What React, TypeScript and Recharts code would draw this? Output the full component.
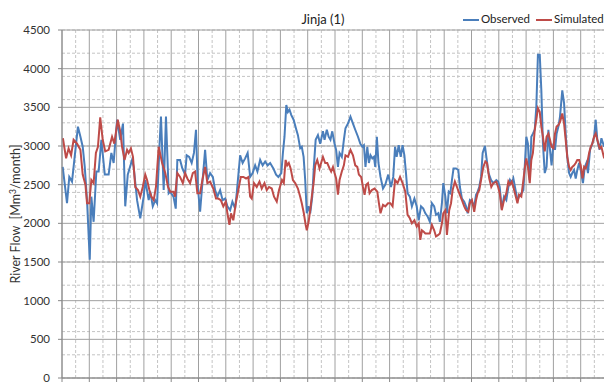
import React from 'react';
import { LineChart, Line, XAxis, YAxis, CartesianGrid } from 'recharts';

// month index (from start of record) and flow in Mm3/month
const obsMonth = [
  0.3, 2.2, 3.2, 4.4, 7.0, 8.1, 9.1, 10.0, 11.0, 12.2, 12.9, 13.9, 15.1, 16.1, 17.3, 18.8, 20.5, 21.7, 22.7, 24.2,
  25.6, 26.8, 27.8, 28.9, 30.8, 31.5, 33.0, 34.4, 35.9, 36.6, 38.1, 38.8, 39.9, 41.0, 41.8, 42.9, 43.5, 44.7, 45.7, 46.9,
  47.5, 49.0, 50.0, 50.7, 51.9, 52.9, 54.1, 54.8, 55.9, 57.0, 58.0, 58.9, 59.7, 60.7, 61.7, 62.9, 63.9, 65.1, 66.3, 67.3,
  68.3, 69.5, 70.6, 71.7, 72.7, 73.9, 74.9, 76.1, 76.8, 78.3, 79.4, 80.5, 81.6, 82.7, 83.8, 84.9, 85.9, 87.1, 88.2, 89.3,
  90.4, 91.5, 92.9, 94.1, 95.1, 96.4, 97.1, 97.8, 98.6, 99.3, 100.0, 100.8, 101.8, 103.0, 103.7, 104.7, 105.4, 106.2, 106.9, 107.6,
  108.4, 109.1, 110.0, 110.7, 111.5, 112.5, 113.5, 114.7, 115.4, 116.4, 117.2, 118.0, 118.8, 119.8, 120.5, 121.3, 122.0, 123.0, 123.9, 124.6,
  125.7, 126.8, 127.9, 128.9, 130.1, 131.1, 132.0, 132.7, 133.4, 134.2, 134.9, 135.6, 136.4, 137.1, 137.7, 138.4, 139.1, 140.0, 141.1, 142.1,
  143.4, 144.6, 145.6, 146.4, 147.1, 148.0, 148.9, 149.7, 150.5, 151.2, 151.9, 152.9, 153.8, 154.9, 155.9, 156.8, 157.8, 158.8, 159.7, 160.7,
  161.7, 162.6, 163.6, 164.4, 165.4, 166.1, 167.0, 167.6, 168.5, 169.2, 170.0, 170.7, 171.4, 172.1, 173.2, 174.2, 174.9, 175.8, 176.8, 177.6,
  178.3, 179.3, 180.2, 181.2, 182.0, 182.7, 183.4, 184.2, 184.9, 185.9, 186.7, 187.5, 188.6, 189.6, 190.9, 191.7, 192.4, 193.3, 194.3, 195.3,
  196.2, 196.9, 197.7, 198.4, 199.1, 200.2, 200.9, 201.9, 202.8, 203.4, 204.1, 204.8, 205.6, 206.3, 207.0, 207.8, 208.5, 209.2, 210.0, 210.7,
  211.4, 212.2, 213.0, 213.8, 214.5, 215.2, 216.0, 216.7, 217.4, 218.2, 218.9, 219.9, 220.7, 221.4, 222.1, 222.9, 223.6, 224.3, 225.1, 225.8,
  226.5, 227.3, 228.0, 229.0, 229.8, 230.5, 231.2, 232.1, 233.1, 233.9, 234.6, 235.3, 236.3, 237.1, 238.3,
];
const obsFlow = [
  2730, 2260, 2600, 2540, 3250, 3120, 2990, 2730, 2300, 1530, 2345, 2020, 2670, 2670, 3080, 2630, 2630, 2910, 2780, 3340,
  3080, 3290, 2220, 2630, 2820, 2730, 2300, 2065, 2345, 2560, 2300, 2410, 2220, 2300, 2260, 3030, 3380, 2430, 3380, 2390,
  2410, 2345, 2190, 2820, 2820, 2710, 2630, 2880, 2860, 2780, 2910, 3210, 2470, 2150, 2520, 2950, 2560, 2650, 2600, 2430,
  2345, 2430, 2300, 2320, 2220, 2170, 2280, 2190, 2390, 2880, 2780, 2840, 2910, 2600, 2650, 2750, 2670, 2820, 2750, 2800,
  2750, 2780, 2710, 2630, 2600, 2650, 2910, 3120, 3530, 3440, 3470, 3400, 3340, 3210, 3140, 2970, 2990, 2860, 2560, 2130,
  2220, 2130, 2345, 2730, 3080, 3140, 3030, 3190, 3080, 3210, 3120, 3080, 3190, 3030, 2950, 2730, 2910, 2860, 3080, 3230,
  3290, 3380, 3290, 3210, 3120, 3030, 2990, 3010, 2730, 2990, 2780, 2880, 2840, 2860, 2730, 3120, 2780, 2600, 2450, 2500,
  2630, 2470, 2600, 2990, 2860, 3010, 2860, 3010, 2880, 2650, 2390, 2345, 2220, 2320, 2220, 2040, 2220, 2190, 2130, 2090,
  2020, 2260, 2220, 2110, 2130, 2020, 2260, 2520, 2345, 2130, 2410, 2390, 2560, 2710, 2710, 2690, 2470, 2320, 2280, 2220,
  2130, 2300, 2280, 2220, 2370, 2410, 2470, 2600, 2910, 3000, 2820, 2650, 2560, 2520, 2560, 2540, 2470, 2190, 2345, 2300,
  2470, 2560, 2520, 2580, 2470, 2300, 2345, 2390, 2430, 2730, 3120, 3030, 2560, 3120, 3160, 3210, 3510, 4180, 4180, 3720,
  3030, 2650, 2730, 3210, 2950, 2750, 3030, 2950, 3160, 3250, 3380, 3720, 3550, 3160, 2860, 2650, 2600, 2650, 2690, 2580,
  2690, 2780, 2690, 2520, 2730, 2780, 2650, 2950, 3030, 3120, 3340, 3080, 2950, 3100, 2990,
];

const simMonth = [
  0.4, 1.8, 2.9, 4.0, 5.1, 6.6, 8.1, 9.1, 10.3, 11.0, 12.0, 12.9, 13.9, 14.9, 15.8, 16.8, 17.9, 19.0, 20.5, 22.0,
  23.0, 24.5, 25.6, 26.4, 27.5, 28.6, 29.3, 30.3, 31.2, 32.2, 33.4, 34.4, 35.5, 36.6, 37.4, 38.4, 39.3, 40.3, 41.3, 42.5,
  44.0, 45.4, 46.6, 47.6, 49.0, 49.7, 50.7, 51.9, 53.1, 54.1, 55.1, 56.3, 57.5, 58.5, 59.5, 60.7, 61.7, 62.9, 63.9, 65.1,
  66.5, 67.7, 68.7, 69.8, 70.9, 72.0, 72.7, 73.6, 74.3, 75.3, 76.4, 77.5, 78.6, 79.7, 80.9, 81.9, 82.7, 83.4, 84.4, 85.6,
  86.8, 87.8, 89.0, 90.0, 91.0, 92.2, 93.2, 94.4, 95.4, 96.7, 97.5, 98.3, 99.0, 99.7, 100.5, 101.5, 102.5, 103.7, 104.7, 105.4,
  106.3, 107.1, 107.6, 108.4, 109.1, 109.8, 110.6, 111.3, 112.2, 113.2, 113.9, 114.7, 115.7, 116.6, 117.6, 118.3, 119.1, 119.8, 120.5, 121.3,
  122.0, 123.0, 123.9, 124.6, 125.7, 126.8, 127.9, 128.9, 129.8, 130.5, 131.5, 132.3, 133.0, 133.7, 134.5, 135.2, 136.2, 137.4, 138.6, 139.3,
  140.0, 141.1, 142.1, 143.3, 144.3, 145.3, 146.4, 147.5, 148.6, 149.7, 150.9, 151.9, 152.9, 153.8, 154.9, 155.9, 156.8, 157.5, 158.2, 159.0,
  159.7, 160.7, 161.7, 162.6, 163.6, 164.4, 165.4, 166.1, 167.0, 167.6, 168.5, 169.2, 170.2, 171.0, 171.7, 172.7, 173.6, 174.6, 175.8, 176.8,
  177.6, 178.6, 179.3, 180.2, 181.2, 182.0, 182.7, 183.4, 184.2, 185.2, 186.1, 186.8, 187.8, 188.7, 189.6, 190.9, 191.7, 192.4, 193.3, 194.3,
  195.3, 196.2, 196.9, 197.7, 198.4, 199.1, 200.2, 200.9, 201.9, 202.8, 203.5, 204.1, 204.8, 205.6, 206.3, 207.0, 207.8, 208.5, 209.2, 210.0,
  210.7, 211.4, 212.2, 213.0, 213.8, 214.5, 215.2, 216.0, 216.7, 217.4, 218.2, 218.9, 219.9, 220.7, 221.4, 222.1, 222.9, 223.6, 224.3, 225.1,
  225.8, 226.5, 227.3, 228.0, 228.8, 229.5, 230.2, 230.9, 231.7, 232.4, 233.1, 233.9, 234.6, 235.3, 236.3, 237.1, 238.3,
];
const simFlow = [
  3100, 2840, 2970, 2880, 3080, 3030, 2950, 2630, 2500, 2260, 2260, 2560, 2520, 2910, 2990, 3370, 3080, 2930, 2950, 3120,
  3030, 3340, 3190, 2990, 2820, 2950, 2910, 2970, 2860, 2470, 2430, 2345, 2470, 2630, 2560, 2430, 2345, 2300, 2470, 2990,
  2780, 2650, 2470, 2410, 2410, 2345, 2650, 2600, 2520, 2650, 2580, 2520, 2650, 2670, 2390, 2390, 2560, 2730, 2520, 2540,
  2450, 2320, 2320, 2300, 2220, 2280, 2130, 1980, 2130, 2040, 2260, 2430, 2600, 2600, 2580, 2600, 2345, 2320, 2520, 2470,
  2540, 2450, 2520, 2430, 2470, 2450, 2345, 2280, 2430, 2560, 2520, 2820, 2750, 2780, 2710, 2560, 2520, 2450, 2345, 2260,
  2130, 1980, 1910, 2020, 2170, 2345, 2520, 2750, 2820, 2710, 2780, 2860, 2780, 2780, 2710, 2670, 2730, 2650, 2580, 2370,
  2560, 2670, 2750, 2880, 2860, 2950, 2880, 2750, 2730, 2630, 2600, 2470, 2370, 2500, 2520, 2390, 2430, 2450, 2410, 2260,
  2130, 2240, 2220, 2260, 2260, 2220, 2560, 2520, 2600, 2520, 2410, 2110, 2065, 2000, 2040, 1960, 2000, 1785, 1910, 1890,
  1870, 1870, 1870, 1980, 1910, 1830, 1850, 1870, 2000, 2130, 2170, 1850, 2170, 2260, 2430, 2540, 2470, 2390, 2300, 2220,
  2170, 2150, 2260, 2300, 2150, 2300, 2390, 2430, 2560, 2730, 2800, 2780, 2580, 2470, 2520, 2540, 2470, 2390, 2170, 2300,
  2390, 2540, 2500, 2540, 2470, 2390, 2260, 2370, 2345, 2560, 2730, 2840, 2730, 2520, 2820, 2910, 3210, 3340, 3490, 3440,
  3250, 3120, 2930, 3120, 3160, 3080, 2990, 2970, 3160, 3250, 3270, 3310, 3420, 3290, 3080, 2860, 2730, 2690, 2730, 2750,
  2780, 2820, 2820, 2750, 2580, 2730, 2710, 2780, 2910, 2990, 3030, 3120, 3160, 3080, 2970, 2990, 2840,
];

const yTicks = [0, 500, 1000, 1500, 2000, 2500, 3000, 3500, 4000, 4500];
const yMinor = Array.from({ length: 46 }, (_, i) => i * 100);
const xMajor = Array.from({ length: 21 }, (_, i) => i * 12);
const xMinor = Array.from({ length: 20 }, (_, i) => i * 12 + 6);

const observed = obsMonth.map((m, i) => ({ m, v: obsFlow[i] }));
const simulated = simMonth.map((m, i) => ({ m, v: simFlow[i] }));

const FONT = 'Lato, "Liberation Sans", sans-serif';
const BLUE = '#4a7ebb';
const RED = '#be4b48';

const YLabel = () => (
  <text x={20} y={214} transform="rotate(-90 20 214)" textAnchor="middle" fontFamily={FONT} fontSize={12.5} fill="#333">
    River Flow{'\u00a0\u00a0'}[Mm<tspan dy={-4} fontSize={8.5}>3</tspan><tspan dy={4}>/month]</tspan>
  </text>
);

const legendText: React.CSSProperties = { position: 'absolute', top: 0, fontSize: 11.5, color: '#222', lineHeight: '20px', whiteSpace: 'nowrap' };
const legendLine: React.CSSProperties = { position: 'absolute', top: 10, width: 16, height: 2 };

export default function App() {
  return (
    <div style={{ position: 'absolute', left: 0, top: 0, width: 604, height: 382, overflow: 'hidden', background: '#fff', fontFamily: FONT }}>
      <LineChart width={608} height={398} margin={{ top: 30, right: 0, bottom: 0, left: 0 }}>
        <CartesianGrid stroke="#c4c4c4" strokeDasharray="3 2" horizontalValues={yMinor} verticalValues={xMinor} />
        <CartesianGrid stroke="#a0a0a0" horizontalValues={yTicks} verticalValues={xMajor} />
        <XAxis
          dataKey="m"
          type="number"
          domain={[0, 240]}
          ticks={xMajor}
          tickFormatter={() => ''}
          height={20}
          stroke="#888"
          allowDuplicatedCategory={false}
        />
        <YAxis
          type="number"
          domain={[0, 4500]}
          ticks={yTicks}
          width={62}
          stroke="#888"
          tickSize={4}
          tickMargin={8}
          tick={{ fontSize: 11.5, fill: '#333', fontFamily: FONT }}
          label={{ content: <YLabel /> }}
        />
        <Line data={observed} dataKey="v" type="linear" stroke={BLUE} strokeWidth={2} dot={false} isAnimationActive={false} />
        <Line data={simulated} dataKey="v" type="linear" stroke={RED} strokeWidth={2} dot={false} isAnimationActive={false} />
      </LineChart>
      <div style={{ position: 'absolute', left: 0, width: 646, top: 9, textAlign: 'center', fontSize: 13, color: '#222', lineHeight: '20px' }}>
        Jinja (1)
      </div>
      <div style={{ position: 'absolute', left: 0, top: 9, width: 604, height: 20 }}>
        <span style={{ ...legendLine, left: 463, background: BLUE }} />
        <span style={{ ...legendText, left: 481 }}>Observed</span>
        <span style={{ ...legendLine, left: 536, background: RED }} />
        <span style={{ ...legendText, left: 554 }}>Simulated</span>
      </div>
    </div>
  );
}
